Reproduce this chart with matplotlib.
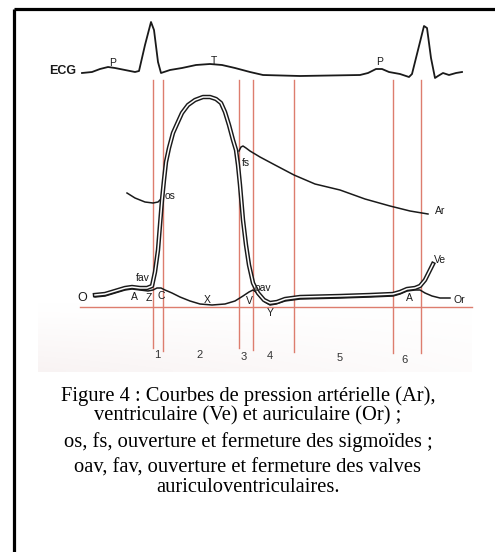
import numpy as np
import matplotlib.pyplot as plt

# all positions below (pixel units, y downwards)

# ECG trace
ecg_x = [82, 92, 100, 108, 115, 125, 135, 139, 145, 151, 154, 158, 161, 164, 170, 182, 196, 210,
         222, 235, 250, 263, 300, 360, 368, 376, 382, 389, 400, 409, 412, 418, 424, 427, 431, 435,
         438, 443, 449, 456, 462]
ecg_y = [73, 72, 69, 67, 68, 70, 72, 71, 45, 22, 30, 62, 73, 72, 70, 68, 65, 64,
         65, 68, 72, 75, 76, 75, 73, 69, 69, 72, 74, 77, 74, 50, 26, 28, 58, 78,
         76, 73, 75, 73, 72]

# pression ventriculaire (Ve)
ve_x = [95, 105, 115, 125, 132, 140, 147, 152, 155, 158, 160, 162, 164, 166, 169, 173, 177, 182,
        188, 195, 203, 210, 216, 221, 225, 229, 233, 236, 238, 240, 243, 246, 249, 253, 258, 264,
        270, 277, 285, 300, 340, 370, 393, 400, 407, 415, 420, 425, 429, 433]
ve_y = [295, 294, 291, 288, 287, 288, 288, 286, 272, 250, 225, 200, 180, 162, 148, 133, 124, 113,
        105, 100, 97, 97, 99, 103, 112, 125, 140, 150, 165, 185, 220, 245, 265, 283, 293, 300,
        303, 302, 299, 297, 296, 295, 294, 292, 289, 288, 286, 280, 272, 264]

# pression auriculaire (Or)
or_x = [95, 105, 115, 125, 132, 140, 148, 153, 157, 161, 165, 172, 180, 190, 200, 212, 225, 235,
        243, 249, 253, 256, 260, 265, 270, 276, 285, 300, 340, 370, 393, 400, 407, 415, 420, 425,
        432, 440, 450]
or_y = [297, 296, 293, 290, 289, 290, 291, 290, 288, 288, 290, 293, 297, 301, 304, 305, 304, 301,
        296, 292, 290, 292, 297, 302, 305, 304, 301, 299, 298, 297, 296, 294, 291, 290, 290, 293,
        296, 298, 298]

# pression arterielle (Ar), avant os et apres fs
ar_pre_x = [127, 135, 145, 153, 158, 161, 163]
ar_pre_y = [193, 198, 202, 203, 202, 199, 195]
ar_post_x = [239, 241, 243, 246, 250, 260, 275, 294, 315, 340, 365, 390, 410, 428]
ar_post_y = [151, 147, 146, 148, 151, 157, 165, 175, 184, 190, 199, 206, 211, 214]

# reperes verticaux (limites des phases) et leurs bas
phase_x = [153, 163, 239, 253, 294, 393, 421]
phase_bas = [348, 351, 348, 350, 352, 353, 353]
phase_num = ["1", "2", "3", "4", "5", "6"]
num_x = [157, 200, 244, 270, 340, 404]
num_y = [355, 355, 357, 356, 358, 360]

# etiquettes des courbes
labels = [("P", 109, 63), ("T", 211, 61), ("P", 376, 62),
          ("os", 165, 196), ("fs", 242, 163), ("Ar", 435, 211), ("Ve", 434, 260),
          ("fav", 136, 278), ("oav", 255, 288),
          ("A", 131, 297), ("Z", 146, 298), ("C", 158, 296), ("X", 204, 300),
          ("V", 246, 301), ("Y", 267, 313), ("A", 406, 298), ("Or", 454, 300)]

legende = ["Figure 4 : Courbes de pression artérielle (Ar),",
           "ventriculaire (Ve) et auriculaire (Or) ;",
           "os, fs, ouverture et fermeture des sigmoïdes ;",
           "oav, fav, ouverture et fermeture des valves",
           "auriculoventriculaires."]
legende_y = [396, 416, 442, 468, 488]

fig = plt.figure(figsize=(4.95, 5.52), dpi=100)
ax = fig.add_axes([0, 0, 1, 1])
ax.set_xlim(0, 495)
ax.set_ylim(552, 0)
ax.axis("off")

# fond legerement grise du scan
fond = np.ones((80, 80, 3))
t = np.linspace(0, 1, 80)
ombre = np.clip((t - 0.82) / 0.18, 0, 1)[:, None] * (1 - 0.7 * t[None, :])
fond[:, :, 0] -= 0.025 * ombre
fond[:, :, 1] -= 0.045 * ombre
fond[:, :, 2] -= 0.045 * ombre
ax.imshow(fond, extent=(38, 472, 372, 18), aspect="auto", zorder=0, interpolation="bilinear")

# cadre
ax.plot([14, 495], [9, 9], color="black", lw=2.3, solid_capstyle="butt")
ax.plot([14, 14], [9, 552], color="black", lw=2.3, solid_capstyle="butt")

rouge = "#dd7d6e"
for x, b in zip(phase_x, phase_bas):
    ax.plot([x, x], [80, b], color=rouge, lw=1.0)
ax.plot([80, 472], [307, 307], color=rouge, lw=1.0)

trait = "#1a1a1a"
ax.plot(ecg_x, ecg_y, color=trait, lw=1.3)
ax.plot(ar_pre_x, ar_pre_y, color=trait, lw=1.1)
ax.plot(ar_post_x, ar_post_y, color=trait, lw=1.1)
ax.plot(or_x, or_y, color=trait, lw=1.1)
# Ve en trait double
ax.plot(ve_x, ve_y, color=trait, lw=3.2, solid_joinstyle="round")
ax.plot(ve_x, ve_y, color="white", lw=1.1, solid_joinstyle="round")

sans = ["Liberation Sans Narrow", "Liberation Sans", "DejaVu Sans"]
ax.text(49, 71, "ECG", fontsize=9, fontweight="bold", family=sans, va="center", ha="left",
        color=trait)
ax.text(77, 298, "O", fontsize=9, family=sans, va="center", ha="left", color=trait)
for s, x, y in labels:
    ax.text(x, y, s, fontsize=7.5, family=sans, va="center", ha="left", color=trait)
for s, x, y in zip(phase_num, num_x, num_y):
    ax.text(x, y, s, fontsize=8, family=sans, va="center", ha="center", color="#333333")

for s, y in zip(legende, legende_y):
    ax.text(248, y, s, fontsize=14.8, family="Liberation Serif", va="center", ha="center",
            color="black")

fig.savefig("out.png", dpi=100)
